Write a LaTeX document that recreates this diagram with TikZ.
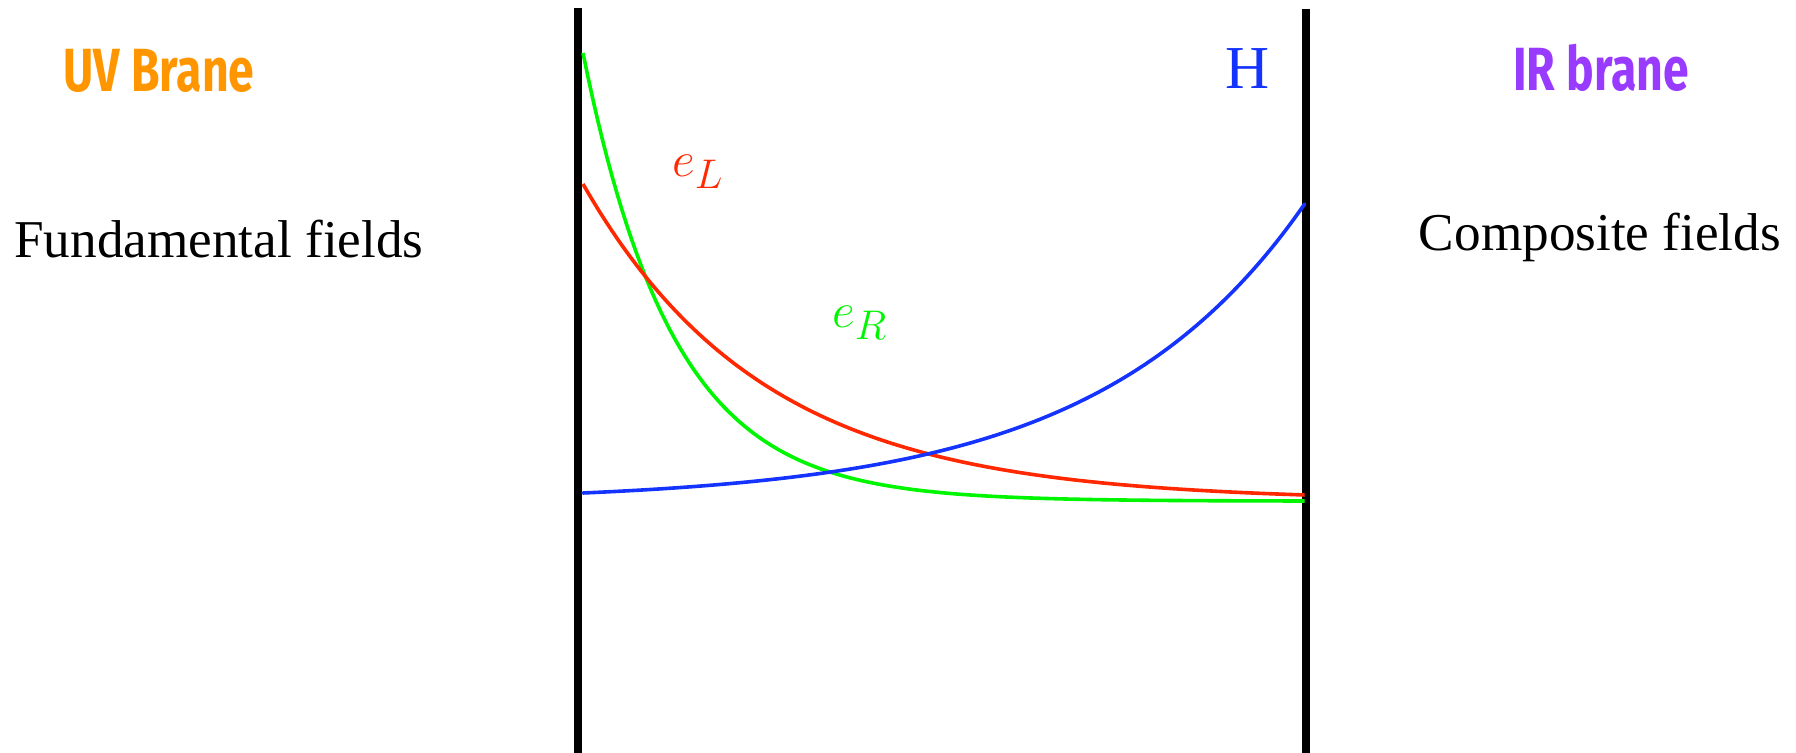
\documentclass[tikz,border=0pt]{standalone}
\usepackage{fontspec}
\usepackage{graphicx}
\setmainfont{Liberation Serif}
\newfontfamily\comicfont{Fira Sans}
\definecolor{uvorange}{RGB}{255,150,0}
\definecolor{irpurple}{RGB}{153,58,255}
\definecolor{hblue}{RGB}{20,51,255}
\definecolor{elred}{RGB}{255,40,0}
\definecolor{ergreen}{RGB}{0,245,0}
\tikzset{
  brane/.style={line width=3.85pt,black},
  curve/.style={line width=1.8pt,line join=round},
  bigtext/.style={font=\fontsize{26.6}{30}\selectfont,inner sep=0pt},
  comic/.style={font=\comicfont\bfseries\fontsize{30.5}{34}\selectfont,inner sep=0pt},
  mathlbl/.style={font=\fontsize{30.5}{34}\selectfont,inner sep=0pt,anchor=base west}
}
\begin{document}
\begin{tikzpicture}[x=0.5pt,y=-0.5pt]
\useasboundingbox (0,0) rectangle (1796,753);
% branes
\coordinate (uvtop) at (578,8);
\coordinate (uvbot) at (578,753);
\coordinate (irtop) at (1306,9);
\coordinate (irbot) at (1306,753);
\draw[brane] (uvtop) -- (uvbot);
\draw[brane] (irtop) -- (irbot);
% profiles
\draw[curve,ergreen] plot[domain=0:1,samples=150] ({583+723*\x},{501-448*(exp(-8*\x)-exp(-8))/(1-exp(-8))});
\draw[curve,elred] plot[domain=0:1,samples=150] ({583+723*\x},{495-311*(exp(-4*\x)-exp(-4))/(1-exp(-4))});
\draw[curve,hblue,line cap=round] plot[domain=0:1,samples=150] ({583+723*\x},{493-291*(exp(3.5*\x)-1)/(exp(3.5)-1)});
% labels
\node[comic,text=uvorange] (uv) at (159,71) {\scalebox{0.76}[1]{UV Brane}};
\node[comic,text=irpurple] (ir) at (1601,68) {\scalebox{0.76}[1]{IR brane}};
\node[bigtext] (fund) at (219,239) {Fundamental fields};
\node[bigtext] (comp) at (1600,237) {Composite fields};
\node[font=\fontsize{30.5}{34}\selectfont,inner sep=0pt,text=hblue] (h) at (1248,69) {H};
\node[mathlbl,text=elred] (el) at (672,177) {$e_L$};
\node[mathlbl,text=ergreen] (er) at (832,328) {$e_R$};
\end{tikzpicture}
\end{document}
